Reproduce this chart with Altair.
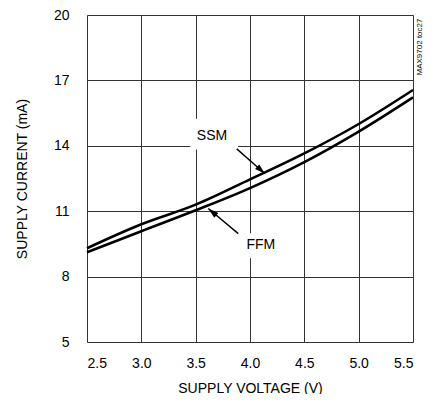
import altair as alt
import pandas as pd

voltage = [2.5, 3.0, 3.5, 4.0, 4.5, 5.0, 5.5]
ssm = [9.30, 10.40, 11.30, 12.46, 13.65, 15.00, 16.56]
ffm = [9.12, 10.08, 11.04, 12.06, 13.25, 14.65, 16.22]
x_ticks = [2.5, 3.0, 3.5, 4.0, 4.5, 5.0, 5.5]
y_ticks = [5, 8, 11, 14, 17, 20]

FONT = "Liberation Sans Narrow, Liberation Sans, Arial, sans-serif"

df = pd.DataFrame({
    "v": voltage * 2,
    "i": ssm + ffm,
    "mode": ["SSM"] * len(voltage) + ["FFM"] * len(voltage),
})

xs = alt.Scale(domain=[2.5, 5.5], nice=False, zero=False)
ys = alt.Scale(domain=[5, 20], nice=False, zero=False)

xax = alt.Axis(values=x_ticks, format=".1f", title="SUPPLY VOLTAGE (V)", grid=True,
               gridColor="#333", gridWidth=1, gridOpacity=1, ticks=False, domain=False,
               labelFont=FONT, labelFontSize=14, labelColor="black", labelPadding=14,
               titleFont=FONT, titleFontSize=14, titleFontWeight="normal", titleColor="black",
               titlePadding=11)
yax = alt.Axis(values=y_ticks, title="SUPPLY CURRENT (mA)", grid=True,
               gridColor="#333", gridWidth=1, gridOpacity=1, ticks=False, domain=False,
               labelFont=FONT, labelFontSize=14, labelColor="black", labelPadding=18,
               titleFont=FONT, titleFontSize=14, titleFontWeight="normal", titleColor="black",
               titlePadding=24)

lines = alt.Chart(df).mark_line(color="black", strokeWidth=2.6, interpolate="monotone").encode(
    x=alt.X("v:Q", scale=xs, axis=xax),
    y=alt.Y("i:Q", scale=ys, axis=yax),
    detail="mode:N",
)

# label annotations (data coordinates)
labels = pd.DataFrame({
    "t": ["SSM", "FFM"],
    "x": [3.65, 4.10],
    "y": [14.47, 9.44],
    "bx": [3.45, 3.935],
    "bx2": [3.89, 4.276],
    "by": [15.24, 9.99],
    "by2": [13.83, 8.84],
})
boxes = alt.Chart(labels).mark_rect(fill="white").encode(
    x=alt.X("bx:Q", scale=xs), x2="bx2:Q", y=alt.Y("by:Q", scale=ys), y2="by2:Q")
texts = alt.Chart(labels).mark_text(font=FONT, fontSize=14, color="black").encode(
    x=alt.X("x:Q", scale=xs), y=alt.Y("y:Q", scale=ys), text="t:N")

arrows = pd.DataFrame({
    "x": [3.878, 3.892],
    "y": [13.86, 9.97],
    "x2": [4.138, 3.616],
    "y2": [12.72, 11.12],
    "ang": [131.5, 309.8],
})
shafts = alt.Chart(arrows).mark_rule(color="black", strokeWidth=1.4).encode(
    x=alt.X("x:Q", scale=xs), y=alt.Y("y:Q", scale=ys), x2="x2:Q", y2="y2:Q")
heads = alt.Chart(arrows).mark_point(
    shape="M0,0L-0.3,1L0.3,1Z", filled=True, color="black", opacity=1, size=440
).encode(x=alt.X("x2:Q", scale=xs), y=alt.Y("y2:Q", scale=ys), angle=alt.Angle("ang:Q", scale=None))

code = alt.Chart(pd.DataFrame({"t": ["MAX9702 toc27"]})).mark_text(
    font=FONT, fontSize=8, angle=270, color="black", baseline="middle", align="center"
).encode(x=alt.value(333), y=alt.value(32), text="t:N")

chart = alt.layer(lines, boxes, texts, shafts, heads, code).properties(
    width=326, height=327,
    autosize=alt.AutoSizeParams(type="none"),
    padding={"left": 79, "top": 7, "right": 12, "bottom": 52},
).configure_view(stroke="black", strokeWidth=3).configure(background="white")

chart.save("out.html", embed_options={"renderer": "svg", "actions": False})
